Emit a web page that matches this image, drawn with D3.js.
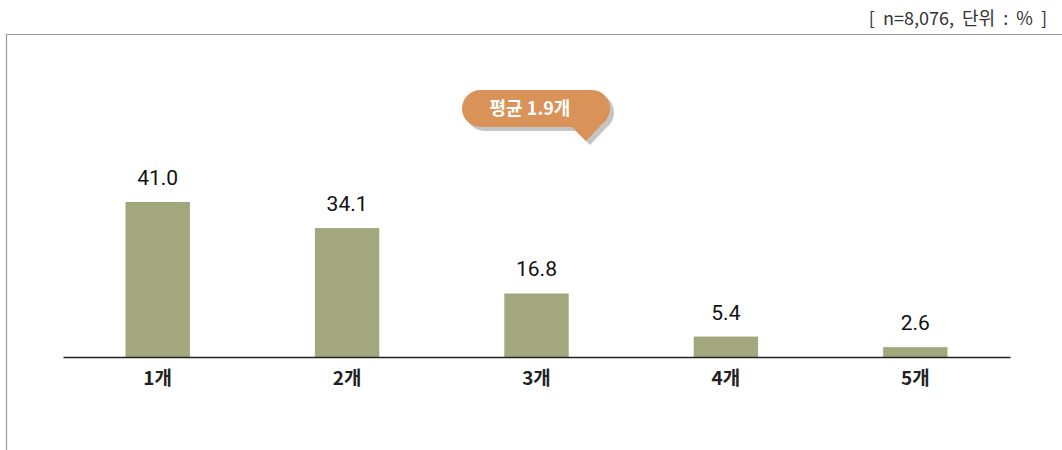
<!DOCTYPE html>
<html>
<head>
<meta charset="utf-8">
<script src="https://cdn.jsdelivr.net/npm/d3@7"></script>
<style>
  html, body { margin: 0; padding: 0; background: #fff; }
  svg { display: block; font-family: "Noto Sans CJK KR", "Noto Sans", sans-serif; }
</style>
</head>
<body>
<svg id="chart" width="1062" height="450"></svg>
<script>
// Number of items held: share of respondents (%)
const categories = ["1개", "2개", "3개", "4개", "5개"];
const values = [41.0, 34.1, 16.8, 5.4, 2.6];
const noteText = "[  n=8,076,  단위  :  %  ]";
const averageText = "평균 1.9개";

const svg = d3.select("#chart");
const W = 1062, H = 450;

// Outer frame: top and left rules
svg.append("line").attr("x1", 6).attr("x2", W).attr("y1", 34.5).attr("y2", 34.5)
  .attr("stroke", "#9a9a9a").attr("stroke-width", 1.2);
svg.append("line").attr("x1", 6.5).attr("x2", 6.5).attr("y1", 34).attr("y2", H)
  .attr("stroke", "#9a9a9a").attr("stroke-width", 1.2);

// Sample size / unit note
svg.append("text").attr("x", 1047).attr("y", 25).attr("text-anchor", "end")
  .style("white-space", "pre")
  .attr("font-size", 18).attr("fill", "#333").text(noteText);

const baseline = 357;
const x = d3.scaleBand().domain(categories).range([63, 1010])
  .paddingInner(0.66).paddingOuter(0.33);
const y = d3.scaleLinear().domain([0, 41]).range([baseline, 202]);

// Bars
svg.append("g").selectAll("rect").data(values).join("rect")
  .attr("x", (d, i) => x(categories[i]))
  .attr("width", x.bandwidth())
  .attr("y", d => y(d))
  .attr("height", d => baseline - y(d))
  .attr("fill", "#a3a77e");

// Value labels
svg.append("g").selectAll("text").data(values).join("text")
  .attr("x", (d, i) => x(categories[i]) + x.bandwidth() / 2)
  .attr("y", d => y(d) - 17)
  .attr("text-anchor", "middle")
  .attr("font-size", 21).attr("fill", "#111")
  .attr("font-family", "Roboto, 'Noto Sans', sans-serif")
  .text(d => d.toFixed(1));

// Category axis
const axis = svg.append("g").attr("transform", `translate(0,${baseline})`)
  .call(d3.axisBottom(x).tickSize(0).tickPadding(15));
axis.select(".domain").attr("stroke", "#222").attr("stroke-width", 1.3);
axis.selectAll("text").attr("font-size", 19).attr("font-weight", "bold")
  .attr("fill", "#222").attr("font-family", "'Noto Sans CJK KR', sans-serif");

// Average callout bubble with tail
function bubblePath(x0, y0, w, h, tx, ty) {
  const r = h / 2;
  const p = d3.path();
  p.moveTo(x0 + r, y0);
  p.lineTo(x0 + w - r, y0);
  p.arc(x0 + w - r, y0 + r, r, -Math.PI / 2, Math.PI / 2 * 0.55, false);
  p.lineTo(tx, ty);
  p.lineTo(tx - 14, y0 + h);
  p.lineTo(x0 + r, y0 + h);
  p.arc(x0 + r, y0 + r, r, Math.PI / 2, Math.PI * 1.5, false);
  p.closePath();
  return p.toString();
}
const bx = 462, by = 90, bw = 148, bh = 37;
svg.append("path").attr("d", bubblePath(bx + 4, by + 4, bw, bh, 590, 145))
  .attr("fill", "#c4c4c4");
svg.append("path").attr("d", bubblePath(bx, by, bw, bh, 586, 141))
  .attr("fill", "#d99257");
svg.append("text").attr("x", bx + bw / 2 - 6).attr("y", by + bh / 2 + 6)
  .attr("text-anchor", "middle").attr("font-size", 18).attr("font-weight", "bold")
  .attr("fill", "#fff").text(averageText);
</script>
</body>
</html>
